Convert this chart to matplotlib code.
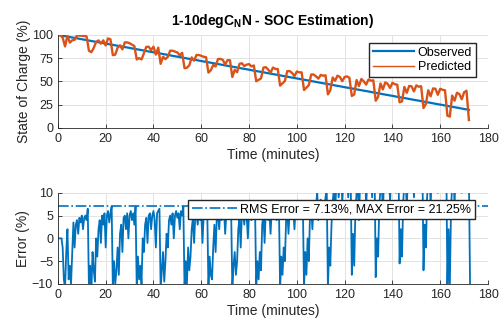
import matplotlib.pyplot as plt
import numpy as np

plt.rcParams['font.family'] = ['Liberation Sans', 'DejaVu Sans']
plt.rcParams['mathtext.fontset'] = 'custom'
plt.rcParams['mathtext.rm'] = 'Liberation Sans'
plt.rcParams['mathtext.bf'] = 'Liberation Sans:bold'

# observed SOC, one value every 2 minutes
observed = [100, 99.1, 98.1, 97.2, 96.3, 95.3,
            94.4, 93.4, 92.5, 91.6, 90.6, 89.7, 88.8, 87.8, 86.9, 86.0,
            85.0, 84.1, 83.2, 82.2, 81.3, 80.4, 79.4, 78.5, 77.5, 76.6,
            75.7, 74.7, 73.8, 72.9, 71.9, 71.0, 70.1, 69.1, 68.2, 67.2,
            66.3, 65.4, 64.4, 63.5, 62.6, 61.6, 60.7, 59.8, 58.8, 57.9,
            57.0, 56.0, 55.1, 54.1, 53.2, 52.3, 51.4, 50.4, 49.5, 48.5,
            47.6, 46.7, 45.7, 44.8, 43.8, 42.9, 42.0, 41.0, 40.1, 39.2,
            38.2, 37.3, 36.3, 35.4, 34.5, 33.5, 32.6, 31.7, 30.7, 29.8,
            28.9, 27.9, 27.0, 26.0, 25.1, 24.2, 23.2, 22.3, 21.4, 20.4, 19.5]

# predicted SOC, one value per minute
predicted = [100, 99.5, 97.1, 87.6, 99.0, 91.7, 94.2, 94.7, 99.5, 99.3,
             99.0, 98.8, 98.4, 82.9, 81.4, 86.0, 92.5, 94.0, 90.6, 94.1,
             88.6, 96.2, 95.2, 78.2, 78.8, 86.3, 88.8, 84.4, 91.9, 91.9,
             91.0, 89.5, 88.0, 73.6, 75.1, 73.6, 80.2, 87.2, 87.2, 83.7,
             87.3, 78.8, 86.3, 68.9, 76.4, 73.9, 76.5, 83.0, 83.0, 82.1,
             81.1, 78.1, 80.7, 64.2, 64.7, 67.3, 75.8, 72.3, 78.4, 78.4,
             77.4, 76.5, 76.0, 59.5, 62.0, 67.6, 66.1, 74.1, 74.2, 73.2,
             68.2, 72.8, 72.8, 54.8, 62.4, 59.9, 68.9, 69.5, 66.5, 68.0,
             68.6, 66.1, 67.1, 50.2, 51.7, 53.2, 64.8, 65.3, 62.8, 59.3,
             64.9, 63.4, 63.4, 45.5, 48.0, 50.5, 61.1, 61.1, 59.1, 55.7,
             60.7, 59.7, 59.8, 40.8, 43.3, 45.9, 57.4, 57.4, 55.5, 53.0,
             57.0, 56.1, 56.6, 36.1, 40.6, 54.2, 50.7, 56.2, 54.8, 50.3,
             54.8, 55.4, 53.9, 34.4, 36.0, 51.5, 45.0, 52.6, 50.1, 46.6,
             52.2, 50.7, 51.2, 29.3, 33.3, 47.8, 41.4, 48.9, 47.4, 43.0,
             48.5, 47.0, 46.5, 27.6, 28.6, 44.1, 37.7, 45.2, 44.7, 39.3,
             45.8, 44.3, 44.9, 21.4, 25.9, 40.5, 34.0, 42.5, 42.1, 35.6,
             42.1, 41.0, 40.5, 13.2, 12.2, 34.8, 29.3, 37.8, 36.4, 30.9,
             38.4, 40.0, 8.5]

# error (%), one value every half minute
error = [0, 0, 0, 0, -2, -9,
         -11, -3, 2, -9, -6, -10, -3, 3.5, -2, 3, 4, 1, 4.5, 3.5, 5, 2, 4.5, 5, 4, 6.5,
         -11, -6, -12, -3, -7, -9.5, 0, -4, 2, 4, -1, 5, 3, 5.5, -2, 5, 6, 3.5, 5.5, 7,
         -11, -5, -10, -7, -2, -8, 1, 3, -3, 4.5, 5, 2, 5.5, 0, 5, 6, 4, 5.5, 3, 7,
         -11, -4, -9, -6, -10, 0, -3, 3, 4.5, -1, 5, 5.5, 2, 5, 6, 4, -2, 5.5, 6, 6.5,
         -11, -7, -3, -9.5, -5, 1, -2, 4, 5, 3, 5.5, 0, 5, 6, 4.5, 5.5, 2, 6, 5, 7,
         -11, -5, -10, -2, -7, -4, 2, 4.5, -1, 5, 5.5, 3, 6, 4, 5.5, -1, 5, 6, 5, 6.5,
         -11, -4, -8, -9, -2, 3, -3, 4.5, 5.5, 2, 6, 4, 5.5, 6.5, 1, 5.5, 6, 4.5, 6.5, 6,
         -11, -6, -3, -8, -5, 2, 4.5, -2, 5.5, 6, 3, 6.5, 5, 0, 6, 6.5, 4, 6, 5.5, 7,
         -11, -5, -9, -3, -7, 3, 5, -1, 6, 6.5, 4, 6, 1, 6.5, 7, 5, 6, 4, 6.5, 7,
         -11, -4, -8, -2, -5, 4, 6, 1, 6.5, 7, 5, 6.5, 2, 7, 7.5, 6, 7, 5, 7.5, 8,
         -11, -3, -8, 0, -5, 5, 7, 2, 7.5, 8, 6, 10.5, 4, 8, 8.5, 7, 8, 6, 9, 11,
         -11, -2, -6, 3, 8, 11, 5, 12, 13, 9, 12, 14, 8, 12.5, 13, 11, 14, 9, 13, 14,
         -8, 1, -6, 6, 10, 12, 4, 13, 14, 10, 12, 15, 7, 13, 15, 12, 14, 9, 15, 16,
         -8.5, 0, -4, 7, 11, 13, 5, 14, 15, 11, 14, 16, 8, 14, 16, 12, 15, 10, 15, 17,
         -5.5, 2, -4, 8, 12, 14, 6, 15, 16, 12, 15, 17, 9, 15, 17, 13, 16, 11, 16, 18,
         -7, 3, -2, 9, 13, 15, 7, 16, 17, 13, 16, 18, 10, 16, 18, 14, 17, 12, 17, 19,
         -10.5, 2, -11, 6, 12, 15, 7, 17, 18, 13, 17, 19, 10, 17, 19, 15, 18, 21.25, 14, -11]

rms_error = 7.13
max_error = 21.25

t_obs = np.arange(len(observed)) * 2.0
t_pred = np.arange(len(predicted)) * 1.0
t_err = np.arange(len(error)) * 0.5

blue = '#0072BD'
orange = '#D95319'
dark = '#262626'

fig = plt.figure(figsize=(4.99, 3.29), dpi=100)
ax1 = fig.add_axes([0.116, 0.611, 0.862, 0.283])
ax2 = fig.add_axes([0.116, 0.137, 0.862, 0.277])

ax1.plot(t_obs, observed, color=blue, lw=1.6, label='Observed')
ax1.plot(t_pred, predicted, color=orange, lw=1.7, label='Predicted')
ax1.set_ylim(0, 100)
ax1.set_yticks([0, 25, 50, 75, 100])
ax1.set_ylabel('State of Charge (%)', fontsize=10, color=dark, labelpad=1)
ax1.set_title('1-10degC$_\\mathbf{N}$N - SOC Estimation)', fontsize=10,
              fontweight='bold', color='black', pad=7)
leg1 = ax1.legend(loc='upper right', bbox_to_anchor=(0.972, 0.914), fontsize=9,
                  fancybox=False, framealpha=1, edgecolor=dark, handlelength=3.3,
                  borderpad=0.3, labelspacing=0.2, handletextpad=0.3, borderaxespad=0)
leg1.get_lines()[1].set_linewidth(1.0)

ax2.plot(t_err, error, color=blue, lw=1.3)
ax2.axhline(rms_error, color=blue, lw=1.2, ls='-.',
            label=f'RMS Error = {rms_error:.2f}%, MAX Error = {max_error:.2f}%')
ax2.set_ylim(-10, 10)
ax2.set_yticks([-10, -5, 0, 5, 10])
ax2.set_ylabel('Error (%)', fontsize=10, color=dark, labelpad=1)
ax2.legend(loc='upper right', bbox_to_anchor=(0.970, 0.923), fontsize=9,
           fancybox=False, framealpha=1, edgecolor=dark, handlelength=3.6,
           borderpad=0.3, handletextpad=0.3, borderaxespad=0)

for ax in (ax1, ax2):
    ax.set_xlim(0, 180)
    ax.set_xticks(range(0, 181, 20))
    ax.set_xlabel('Time (minutes)', fontsize=10, color=dark, labelpad=2)
    ax.grid(True, color='#e3e3e3', lw=0.7)
    ax.set_axisbelow(True)
    ax.tick_params(direction='in', length=3, width=0.6, colors=dark, labelsize=9)
    for side in ('top', 'right'):
        ax.spines[side].set_visible(False)
    for side in ('left', 'bottom'):
        ax.spines[side].set_color(dark)
        ax.spines[side].set_linewidth(0.6)

fig.savefig('out.png', dpi=100)
